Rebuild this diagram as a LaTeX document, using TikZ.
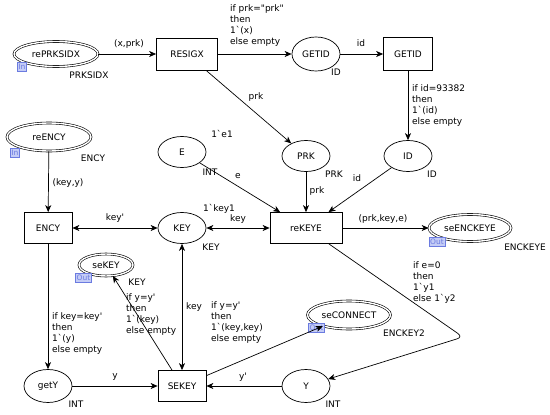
\documentclass[tikz,border=0pt]{standalone}
\usepackage{fontspec}
\setmainfont{DejaVu Sans}[Ligatures=TeXOff]
\usetikzlibrary{arrows.meta,shapes.geometric}
\definecolor{portfill}{HTML}{C4CCF6}
\definecolor{portline}{HTML}{6B7BE0}

\tikzset{
  place/.style={ellipse,draw,line width=0.7pt,minimum width=48pt,minimum height=31pt,inner sep=0pt},
  port/.style={place,double,double distance=1.4pt,line width=0.6pt},
  trans/.style={rectangle,draw,line width=0.7pt,minimum width=48pt,minimum height=31pt,inner sep=0pt},
  porttag/.style={rectangle,draw=portline,fill=portfill,text=portline,line width=0.5pt,
    font=\fontsize{7.5}{7.5}\selectfont,inner sep=1pt,minimum height=9pt},
  inscr/.style={inner sep=0pt},
  guard/.style={inscr,align=left,anchor=north west},
  tip/.tip={Stealth[length=7pt,width=6pt,inset=2pt]},
  arc/.style={draw,line width=0.7pt,-tip},
  biarc/.style={draw,line width=0.7pt,tip-tip}
}

\begin{document}
\begin{tikzpicture}[x=1pt,y=-1pt,font=\fontsize{9}{11.2}\selectfont]
  \useasboundingbox (0,0) rectangle (550,415);
  % Port places
  \node[port,minimum width=84pt,minimum height=25pt] (rePRKSIDX) at (56,54) {rePRKSIDX};
  \node[port,minimum width=84pt,minimum height=28pt] (reENCY) at (49,137) {reENCY};
  \node[port,minimum width=82pt,minimum height=27pt] (seENCKEYE) at (470,228) {seENCKEYE};
  \node[port,minimum width=54pt,minimum height=22pt] (seKEY) at (106,265) {seKEY};
  \node[port,minimum width=83pt,minimum height=28pt] (seCONNECT) at (349,315) {seCONNECT};
  \node[porttag] (tagPRKSIDX) at (22,66.5) {In};
  \node[porttag] (tagENCY) at (15,152.5) {In};
  \node[porttag] (tagENCKEYE) at (437,242) {Out};
  \node[porttag] (tagKEY) at (83.5,277.5) {Out};
  \node[porttag] (tagCONNECT) at (316.5,327.5) {Out};
  % Places
  \node[place,minimum height=34pt] (GETIDp) at (316,54) {GETID};
  \node[place] (PRK) at (306,156) {PRK};
  \node[place] (ID) at (408,156) {ID};
  \node[place] (E) at (182,152) {E};
  \node[place] (KEY) at (182,228) {KEY};
  \node[place,minimum height=33pt] (getY) at (48,386) {getY};
  \node[place,minimum height=33pt] (Y) at (306,386) {Y};
  % Transitions
  \node[trans,minimum width=61pt,minimum height=32pt] (RESIGX) at (187,54) {RESIGX};
  \node[trans,minimum width=49pt,minimum height=33pt] (GETIDt) at (408,54) {GETID};
  \node[trans] (ENCY) at (48,228) {ENCY};
  \node[trans,minimum width=72pt] (reKEYE) at (306,228) {reKEYE};
  \node[trans] (SEKEY) at (182,386) {SEKEY};
  % Colour sets and initial markings
  \node[inscr] (csPRKSIDX) at (89,75) {PRKSIDX};
  \node[inscr] (csGETID) at (336,72) {ID};
  \node[inscr] (csPRK) at (334,174) {PRK};
  \node[inscr] (csID) at (432,174) {ID};
  \node[inscr] (csENCY) at (93,158) {ENCY};
  \node[inscr] (csE) at (210,172) {INT};
  \node[inscr] (imE) at (222,134) {1`e1};
  \node[inscr] (imKEY) at (219,209) {1`key1};
  \node[inscr] (csKEY) at (211,247) {KEY};
  \node[inscr] (csENCKEYE) at (525,247) {ENCKEYE};
  \node[inscr] (csseKEY) at (137,282) {KEY};
  \node[inscr] (csCONNECT) at (404,333) {ENCKEY2};
  \node[inscr] (csgetY) at (76,404) {INT};
  \node[inscr] (csY) at (333,404) {INT};
  % Arc inscriptions
  \node[inscr] (xprk) at (129,44) {(x,prk)};
  \node[guard] (grdGETID) at (230,4) {if prk="prk"\\then\\1`(x)\\else empty};
  \node[inscr] (idGETID) at (361,43) {id};
  \node[guard] (grdID) at (412,84) {if id=93382\\then\\1`(id)\\else empty};
  \node[inscr] (prkPRK) at (256,97) {prk};
  \node[inscr] (eE) at (238,176) {e};
  \node[inscr] (keyy) at (68,183) {(key,y)};
  \node[inscr] (keyENCY) at (115,218) {key'};
  \node[inscr] (keyKEYE) at (238,219) {key};
  \node[inscr] (prkKEYE) at (317,191) {prk};
  \node[inscr] (idKEYE) at (357,178) {id};
  \node[inscr] (prkkeye) at (383,219) {(prk,key,e)};
  \node[guard] (grdgetY) at (52,312) {if key=key'\\then\\1`(y)\\else empty};
  \node[guard] (grdseKEY) at (126,293) {if y=y'\\then\\1`(key)\\else empty};
  \node[inscr] (keySEKEY) at (194,307) {key};
  \node[guard] (grdCONNECT) at (211,301) {if y=y'\\then\\1`(key,key)\\else empty};
  \node[inscr] (yY) at (115,377) {y};
  \node[inscr] (ypY) at (243,377) {y'};
  \node[guard] (grdY) at (413,261) {if e=0\\then\\1`y1\\else 1`y2};
  % Arcs
  \coordinate (bend) at (463,337);
  \draw[arc] (rePRKSIDX) -- (RESIGX);
  \draw[arc] (RESIGX) -- (GETIDp);
  \draw[arc] (GETIDp) -- (GETIDt);
  \draw[arc] (GETIDt) -- (ID);
  \draw[arc] (RESIGX) -- (PRK);
  \draw[arc] (PRK) -- (reKEYE);
  \draw[arc] (ID) -- (reKEYE);
  \draw[arc] (E) -- (reKEYE);
  \draw[arc] (reENCY) -- (ENCY);
  \draw[biarc] (ENCY) -- (KEY);
  \draw[biarc] (KEY) -- (reKEYE);
  \draw[arc] (reKEYE) -- (seENCKEYE);
  \draw[arc] (ENCY) -- (getY);
  \draw[arc] (getY) -- (SEKEY);
  \draw[arc] (Y) -- (SEKEY);
  \draw[biarc] (SEKEY) -- (KEY);
  \draw[arc] (SEKEY) -- (seKEY);
  \draw[arc] (SEKEY) -- (seCONNECT);
  \draw[arc,rounded corners=6pt] (reKEYE) -- (bend) -- (Y);
\end{tikzpicture}
\end{document}
